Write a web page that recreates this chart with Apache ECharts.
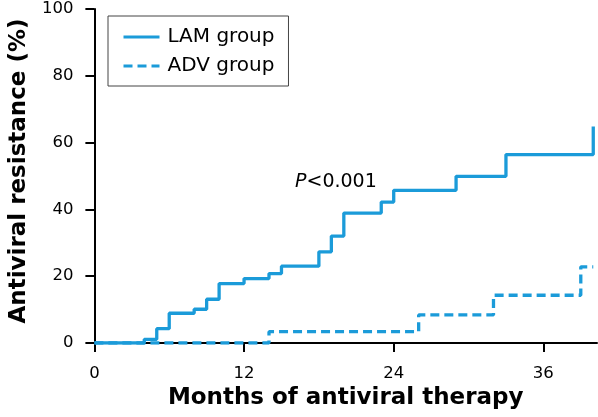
<!DOCTYPE html>
<html>
<head>
<meta charset="utf-8">
<script src="https://cdn.jsdelivr.net/npm/echarts@6/dist/echarts.min.js"></script>
<style>
html,body{margin:0;padding:0;background:#fff;}
#c{width:598px;height:417px;}
</style>
</head>
<body>
<div id="c"></div>
<script>
// Months (x) and cumulative resistance % (y)
const lamMonths = [0, 4, 5, 6, 8, 9, 10, 12, 14, 15, 18, 19, 20, 23, 24, 29, 33, 40];
const lamValues = [0, 1.1, 4.3, 8.9, 10.1, 13.1, 17.8, 19.3, 20.8, 23.0, 27.3, 32.0, 38.9, 42.2, 45.7, 49.9, 56.4, 64.8];
const advMonths = [0, 14, 26, 32, 39, 40];
const advValues = [0, 3.4, 8.4, 14.3, 22.8, 22.8];
const xTicks = [0, 12, 24, 36];
const seriesNames = ['LAM group', 'ADV group'];
const xTitle = 'Months of antiviral therapy';
const yTitle = 'Antiviral resistance (%)';
const pText = '<0.001';

const color = '#1b9bd9';
const font = 'DejaVu Sans';

const chart = echarts.init(document.getElementById('c'), null, {renderer: 'canvas'});
chart.setOption({
  backgroundColor: '#fff',
  animation: false,
  grid: {left: 91, right: 1, top: 9, bottom: 74, containLabel: false},
  legend: {
    orient: 'vertical',
    left: 108, top: 16,
    padding: [10, 14, 9, 14],
    itemWidth: 36, itemHeight: 14, itemGap: 7,
    borderColor: '#444', borderWidth: 1,
    itemStyle: {opacity: 0},
    lineStyle: {width: 3},
    textStyle: {fontFamily: font, fontSize: 20, color: '#000', lineHeight: 22, padding: [0, 0, 0, 3]},
    data: seriesNames
  },
  xAxis: {
    type: 'value', min: 0, max: 40.3,
    name: xTitle, nameLocation: 'middle', nameGap: 44,
    nameTextStyle: {fontFamily: font, fontSize: 23, fontWeight: 'bold', color: '#000'},
    splitLine: {show: false},
    axisLine: {show: true, onZero: false, lineStyle: {color: '#000', width: 2}},
    axisTick: {show: true, length: 9, lineStyle: {color: '#000', width: 2}, customValues: xTicks},
    axisLabel: {fontFamily: font, fontSize: 16.5, color: '#000', margin: 22, customValues: xTicks}
  },
  yAxis: {
    type: 'value', min: 0, max: 100, interval: 20,
    name: yTitle, nameLocation: 'middle', nameGap: 63,
    nameTextStyle: {fontFamily: font, fontSize: 23, fontWeight: 'bold', color: '#000', padding: [0, 0, 0, 10]},
    splitLine: {show: false},
    axisLine: {show: true, lineStyle: {color: '#000', width: 2}},
    axisTick: {show: true, length: 9, lineStyle: {color: '#000', width: 2}},
    axisLabel: {fontFamily: font, fontSize: 16.5, color: '#000', margin: 21}
  },
  graphic: [
    {type: 'text', left: 295, top: 173, z: 100,
     style: {text: '{i|P}' + pText, fill: '#000', font: '19px "DejaVu Sans"',
       rich: {i: {fontStyle: 'italic', fontFamily: font, fontSize: 19}}}}
  ],
  series: [
    {name: seriesNames[0], type: 'line', step: 'end', symbol: 'none', showSymbol: false,
     z: 3,
     lineStyle: {color: color, width: 3.3}, itemStyle: {color: color},
     data: lamMonths.map((m, i) => [m, lamValues[i]])},
    {name: seriesNames[1], type: 'line', step: 'end', symbol: 'none', showSymbol: false,
     z: 4,
     lineStyle: {color: color, width: 3.3, type: [9, 5]}, itemStyle: {color: color},
     data: advMonths.map((m, i) => [m, advValues[i]])}
  ]
});
</script>
</body>
</html>
